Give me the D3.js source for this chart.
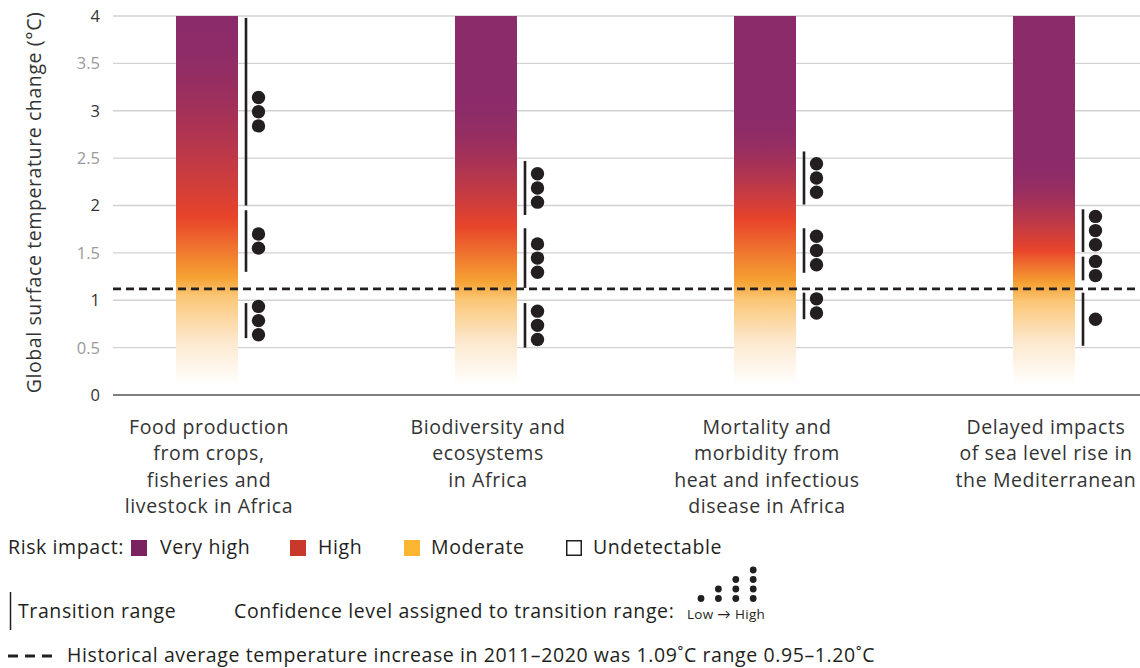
<!DOCTYPE html>
<html>
<head>
<meta charset="utf-8">
<script src="https://cdn.jsdelivr.net/npm/d3@7"></script>
<style>
  body { margin: 0; background: #fff; }
  svg { font-family: "Open Sans", Lato, sans-serif; }
</style>
</head>
<body>
<svg width="1140" height="668"></svg>
<script>
// ---- data ----
const categories = ["food", "biodiversity", "mortality", "sealevel"];
const categoryLines = [
  ["Food production", "from crops,", "fisheries and", "livestock in Africa"],
  ["Biodiversity and", "ecosystems", "in Africa"],
  ["Mortality and", "morbidity from", "heat and infectious", "disease in Africa"],
  ["Delayed impacts", "of sea level rise in", "the Mediterranean"]
];
// transition ranges (°C), per category: [undetectable->moderate, moderate->high, high->very high]
const rangeLow  = [[0.60, 1.30, 2.00], [0.50, 1.13, 1.90], [0.80, 1.29, 2.01], [0.52, 1.21, 1.51]];
const rangeHigh = [[0.97, 1.95, 3.98], [0.97, 1.76, 2.47], [1.08, 1.76, 2.57], [1.08, 1.46, 1.96]];
const confidence = [[3, 2, 3], [3, 3, 3], [2, 3, 3], [1, 2, 3]];
// where the colour gradient of each bar changes (°C)
const purpleUntil = [4.0, 3.2, 3.0, 2.5];
const redAt = [1.87, 1.78, 1.85, 1.53];
const orangeAt = [1.24, 1.2, 1.2, 1.18];
const barTop = 4, barBottom = 0.1;
const historical = 1.12;

const yTicks = [0, 0.5, 1, 1.5, 2, 2.5, 3, 3.5, 4];
const riskLevels = ["Very high", "High", "Moderate", "Undetectable"];
const riskColors = ["#7b2361", "#c8392b", "#fbb731", "#ffffff"];
const confidenceLevels = [1, 2, 3, 4];

// ---- setup ----
const svg = d3.select('svg');
const width = +svg.attr('width');

const y = d3.scaleLinear().domain([0, 4]).range([395, 16]);
const x = d3.scalePoint().domain(categories).range([207, 1044]);
const barW = 62;
const fs = 19.5, ls = 0.6; // text size and tracking

const grad = { purple: "#8b2b6a", red: "#e8442a", orange: "#f6a233", light: "#fbc777", pale: "#fde9d0" };

// gridlines
const grid = svg.append('g');
grid.selectAll('line')
  .data(yTicks.filter(d => d > 0))
  .join('line')
    .attr('x1', 113).attr('x2', width)
    .attr('y1', d => y(d)).attr('y2', d => y(d))
    .attr('stroke', '#d2d2d2')
    .attr('stroke-width', 1.4);

// y axis labels
svg.append('g').selectAll('text')
  .data(yTicks)
  .join('text')
    .attr('x', 100)
    .attr('y', d => y(d))
    .attr('dy', '0.36em')
    .attr('text-anchor', 'end')
    .attr('font-size', 16.5)
    .attr('fill', d => Number.isInteger(d) ? '#333' : '#9a9a9a')
    .text(d => d);

svg.append('text')
  .attr('transform', `translate(41,${y(2) - 3}) rotate(-90)`)
  .attr('text-anchor', 'middle')
  .attr('font-size', fs)
  .attr('letter-spacing', ls)
  .attr('fill', '#333')
  .text('Global surface temperature change (°C)');

// gradients: purple eases into red, then orange, then fades to white
const defs = svg.append('defs');
categories.forEach((c, i) => {
  const lg = defs.append('linearGradient')
    .attr('id', `grad-${i}`)
    .attr('gradientUnits', 'userSpaceOnUse')
    .attr('x1', 0).attr('x2', 0)
    .attr('y1', y(barTop)).attr('y2', y(barBottom));
  const total = y(barBottom) - y(barTop);
  const off = v => (y(v) - y(barTop)) / total;
  const stops = [[barTop, grad.purple], [purpleUntil[i], grad.purple]];
  const mix = d3.interpolateRgb(grad.purple, grad.red);
  d3.range(1, 6).forEach(k => {
    const t = k / 6;
    stops.push([purpleUntil[i] + (redAt[i] - purpleUntil[i]) * t, mix(d3.easeSinIn(t))]);
  });
  stops.push([redAt[i], grad.red], [orangeAt[i], grad.orange],
    [orangeAt[i] - 0.2, grad.light], [0.55, grad.pale], [barBottom, "#ffffff"]);
  lg.selectAll('stop')
    .data(stops)
    .join('stop')
      .attr('offset', d => off(d[0]))
      .attr('stop-color', d => d[1]);
});

// bars
svg.append('g').selectAll('rect')
  .data(categories)
  .join('rect')
    .attr('x', d => x(d) - barW / 2)
    .attr('width', barW)
    .attr('y', y(barTop))
    .attr('height', y(barBottom) - y(barTop))
    .attr('fill', (d, i) => `url(#grad-${i})`);

// baseline
svg.append('line')
  .attr('x1', 113).attr('x2', width)
  .attr('y1', y(0)).attr('y2', y(0))
  .attr('stroke', '#555')
  .attr('stroke-width', 1.5);

// historical dashed line
svg.append('line')
  .attr('x1', 113).attr('x2', width)
  .attr('y1', y(historical)).attr('y2', y(historical))
  .attr('stroke', '#231f20')
  .attr('stroke-width', 2.6)
  .attr('stroke-dasharray', '8,5');

// transition ranges + confidence dots
const dotR = 6.7, dotGap = 14.2;
categories.forEach((c, i) => {
  const lx = x(c) + barW / 2 + 8;
  const g = svg.append('g');
  rangeLow[i].forEach((lo, j) => {
    const hi = rangeHigh[i][j];
    g.append('line')
      .attr('x1', lx).attr('x2', lx)
      .attr('y1', y(hi)).attr('y2', y(lo))
      .attr('stroke', '#231f20')
      .attr('stroke-width', 2.6);
    const n = confidence[i][j];
    const mid = y((lo + hi) / 2);
    g.selectAll(null)
      .data(d3.range(n))
      .join('circle')
        .attr('cx', lx + 12.5)
        .attr('cy', k => mid + (k - (n - 1) / 2) * dotGap)
        .attr('r', dotR)
        .attr('fill', '#231f20');
  });
});

// category labels
svg.append('g').selectAll('text')
  .data(categories)
  .join('text')
    .attr('x', d => x(d) + 2)
    .attr('y', 434)
    .attr('text-anchor', 'middle')
    .attr('font-size', fs)
    .attr('letter-spacing', ls)
    .attr('fill', '#333')
    .each(function(d, i) {
      d3.select(this).selectAll('tspan')
        .data(categoryLines[i])
        .join('tspan')
          .attr('x', x(d) + 2)
          .attr('dy', (t, k) => k === 0 ? 0 : 26.3)
          .text(t => t);
    });

// ---- legend ----
const legend = svg.append('g')
  .attr('font-size', fs)
  .attr('letter-spacing', ls)
  .attr('fill', '#231f20');
legend.append('text').attr('x', 8).attr('y', 554).text('Risk impact:');
const swatchX = [131, 290, 404, 566];
const labelX = [160, 318, 431, 593];
riskLevels.forEach((r, i) => {
  legend.append('rect')
    .attr('x', swatchX[i] + (i === 3 ? 0.75 : 0)).attr('y', 540 + (i === 3 ? 0.75 : 0))
    .attr('width', i === 3 ? 14.5 : 16).attr('height', i === 3 ? 14.5 : 16)
    .attr('fill', riskColors[i])
    .attr('stroke', i === 3 ? '#231f20' : 'none')
    .attr('stroke-width', 1.5);
  legend.append('text').attr('x', labelX[i]).attr('y', 554).text(r);
});

legend.append('line')
  .attr('x1', 10.5).attr('x2', 10.5).attr('y1', 592).attr('y2', 630)
  .attr('stroke', '#231f20').attr('stroke-width', 1.5);
legend.append('text').attr('x', 18).attr('y', 618).text('Transition range');
legend.append('text').attr('x', 234).attr('y', 618).text('Confidence level assigned to transition range:');

legend.selectAll('g.conf')
  .data(confidenceLevels)
  .join('g')
    .attr('class', 'conf')
    .attr('transform', (d, i) => `translate(${701 + i * 17.4},598.5)`)
  .selectAll('circle')
  .data(d => d3.range(d))
  .join('circle')
    .attr('cy', k => -k * 9.5)
    .attr('r', 3.4)
    .attr('fill', '#231f20');
legend.append('text').attr('x', 687).attr('y', 619)
  .attr('font-size', 13.5).attr('letter-spacing', 0.3).text('Low → High');

legend.append('line')
  .attr('x1', 8).attr('x2', 54).attr('y1', 656).attr('y2', 656)
  .attr('stroke', '#231f20').attr('stroke-width', 3)
  .attr('stroke-dasharray', '10,7');
legend.append('text').attr('x', 67).attr('y', 662)
  .text('Historical average temperature increase in 2011–2020 was 1.09˚C range 0.95–1.20˚C');
</script>
</body>
</html>
